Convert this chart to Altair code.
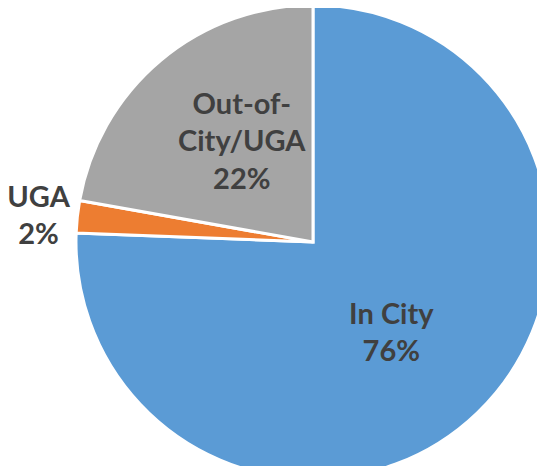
import altair as alt
import pandas as pd

categories = ["In City", "UGA", "Out-of-City/UGA"]
values = [75.6, 2.2, 22.2]
labels = ["In City\n76%", "UGA\n2%", "Out-of-\nCity/UGA\n22%"]
colors = ["#5B9BD5", "#ED7D31", "#A5A5A5"]

df = pd.DataFrame({
    "category": categories,
    "value": values,
    "label": labels,
    "order": list(range(len(categories))),
})

CX, CY = 305, 234
base = alt.Chart(df).encode(
    theta=alt.Theta("value:Q", stack=True),
    order=alt.Order("order:Q"),
    x=alt.value(CX),
    y=alt.value(CY),
)

pie = base.mark_arc(stroke="white", strokeWidth=3).encode(
    color=alt.Color("category:N", scale=alt.Scale(domain=categories, range=colors), legend=None),
    radius=alt.value(237),
)

def label_layer(cat, r, dx, dy):
    return base.mark_text(
        font="Lato", fontSize=29, fontWeight="bold", color="#404040",
        lineBreak="\n", lineHeight=37.5, align="center", baseline="middle",
        dx=dx, dy=dy,
    ).encode(
        text="label:N",
        radius=alt.value(r),
        opacity=alt.condition(alt.datum.category == cat, alt.value(1), alt.value(0)),
    )

chart = alt.layer(
    pie,
    label_layer("In City", 123, -7, -16),
    label_layer("UGA", 275, -1, -15),
    label_layer("Out-of-City/UGA", 114, 2, -50),
).properties(
    width=529, height=458, padding=0,
    autosize=alt.AutoSizeParams(type="none"),
).configure_view(stroke=None)

chart.save("out.html", embed_options={"renderer": "svg", "actions": False})
